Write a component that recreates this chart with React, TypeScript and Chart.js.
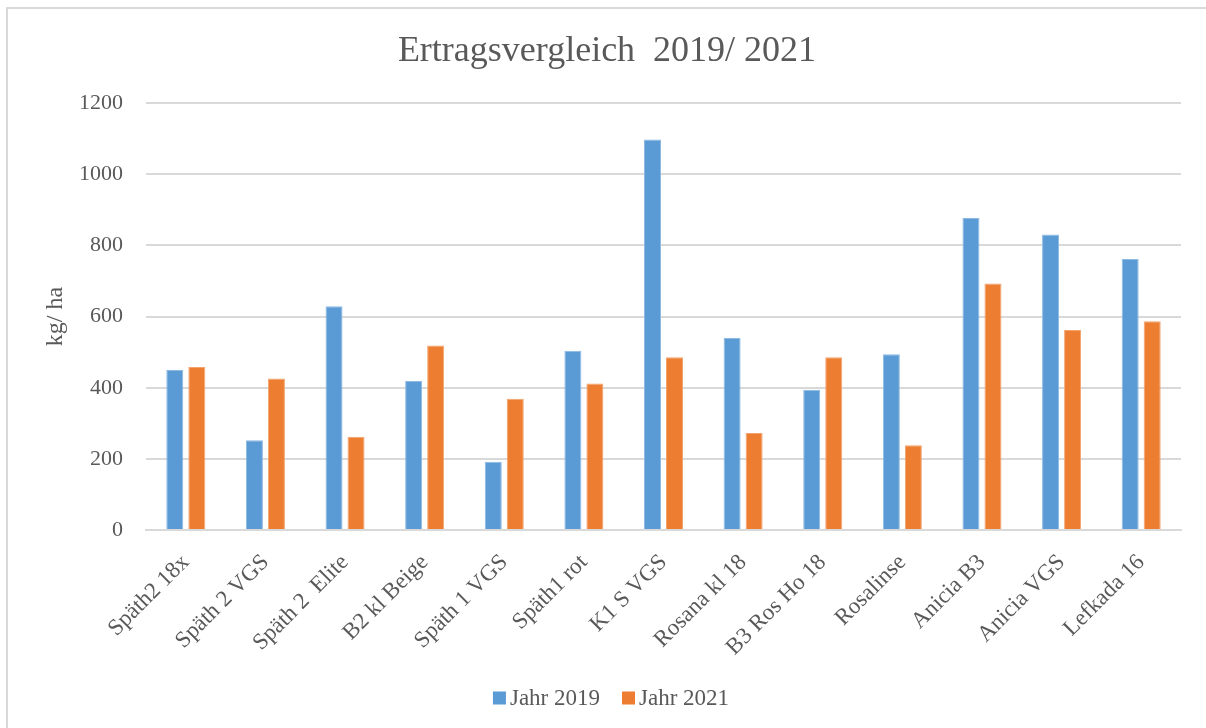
import React, { useEffect, useRef } from "react";
import { Chart, registerables } from "chart.js";

Chart.register(...registerables);

const chartTitle = "Ertragsvergleich  2019/ 2021";
const yAxisTitle = "kg/ ha";
const categories = [
  "Späth2 18x",
  "Späth 2 VGS",
  "Späth 2  Elite",
  "B2 kl Beige",
  "Späth 1 VGS",
  "Späth1 rot",
  "K1 S VGS",
  "Rosana kl 18",
  "B3 Ros Ho 18",
  "Rosalinse",
  "Anicia B3",
  "Anicia VGS",
  "Lefkada 16",
];
const seriesNames = ["Jahr 2019", "Jahr 2021"];
const values2019 = [450, 252, 629, 419, 192, 504, 1098, 540, 394, 494, 877, 831, 762];
const values2021 = [458, 426, 262, 519, 369, 412, 486, 273, 486, 238, 693, 562, 587];
const yMin = 0;
const yMax = 1200;
const yStep = 200;

const FONT = "'Liberation Serif', 'Times New Roman', serif";
const TEXT = "#595959";
const GRID = "#d9d9d9";
const COLORS = ["#5b9bd5", "#ed7d31"];
const BORDERS = ["#8db9e2", "#f3a36e"];

const legendPlugin = {
  id: "excelLegend",
  afterDraw(chart: any) {
    const ctx = chart.ctx as CanvasRenderingContext2D;
    const ds = chart.data.datasets;
    const fontSize = 23;
    const box = 13;
    const gap = 4;
    const spacing = 22;
    ctx.save();
    ctx.font = `${fontSize}px ${FONT}`;
    const widths = ds.map((d: any) => box + gap + ctx.measureText(d.label).width);
    const total = widths.reduce((a: number, b: number) => a + b, 0) + spacing * (ds.length - 1);
    let x = chart.width / 2 - total / 2 + 4;
    const cy = 689;
    ctx.textBaseline = "middle";
    ctx.textAlign = "left";
    ds.forEach((d: any, i: number) => {
      ctx.fillStyle = d.backgroundColor;
      ctx.fillRect(x, cy - box / 2, box, box);
      ctx.fillStyle = TEXT;
      ctx.fillText(d.label, x + box + gap, cy + 1);
      x += widths[i] + spacing;
    });
    ctx.restore();
  },
};

export default function App() {
  const canvasRef = useRef<HTMLCanvasElement | null>(null);

  useEffect(() => {
    document.documentElement.style.overflow = "hidden";
    document.body.style.overflow = "hidden";
    const canvas = canvasRef.current;
    if (!canvas) return;
    const chart = new Chart(canvas, {
      type: "bar",
      data: {
        labels: categories,
        datasets: [
          {
            label: seriesNames[0],
            data: values2019,
            backgroundColor: COLORS[0],
            borderColor: BORDERS[0],
            borderWidth: 1,
            categoryPercentage: 0.553,
            barPercentage: 0.773,
          },
          {
            label: seriesNames[1],
            data: values2021,
            backgroundColor: COLORS[1],
            borderColor: BORDERS[1],
            borderWidth: 1,
            categoryPercentage: 0.553,
            barPercentage: 0.773,
          },
        ],
      },
      options: {
        responsive: false,
        animation: false,
        devicePixelRatio: 1,
        layout: { padding: { left: 25, right: 25, top: 0, bottom: 51 } },
        plugins: {
          title: {
            display: true,
            text: chartTitle,
            color: TEXT,
            font: { family: FONT, size: 36, weight: "normal" },
            padding: { top: 21, bottom: 30 },
          },
          legend: { display: false },
          tooltip: { enabled: false },
        },
        scales: {
          x: {
            grid: { display: false, drawTicks: false },
            border: { display: true, color: GRID, width: 2 },
            ticks: {
              color: TEXT,
              font: { family: FONT, size: 23 },
              minRotation: 45,
              maxRotation: 45,
              autoSkip: false,
              padding: 19,
            },
            afterFit: (scale: any) => {
              scale.height = 147;
            },
          },
          y: {
            min: yMin,
            max: yMax,
            grid: { color: GRID, lineWidth: 2, drawTicks: false },
            border: { display: false },
            ticks: {
              stepSize: yStep,
              color: TEXT,
              font: { family: FONT, size: 22 },
              padding: 23,
              callback: (v: any) => String(v),
            },
            title: {
              display: true,
              text: yAxisTitle,
              color: TEXT,
              font: { family: FONT, size: 24 },
              padding: { top: 8, bottom: 0 },
            },
            afterFit: (scale: any) => {
              scale.width = 113;
            },
          },
        },
      },
      plugins: [legendPlugin],
    });
    return () => chart.destroy();
  }, []);

  return (
    <div
      style={{
        position: "absolute",
        left: 6,
        top: 7,
        width: 1204,
        height: 724,
        border: "2px solid #d9d9d9",
        boxSizing: "border-box",
        background: "#fff",
      }}
    >
      <canvas
        ref={canvasRef}
        width={1198}
        height={719}
        style={{ position: "absolute", left: 0, top: 0, width: 1198, height: 719 }}
      />
    </div>
  );
}
